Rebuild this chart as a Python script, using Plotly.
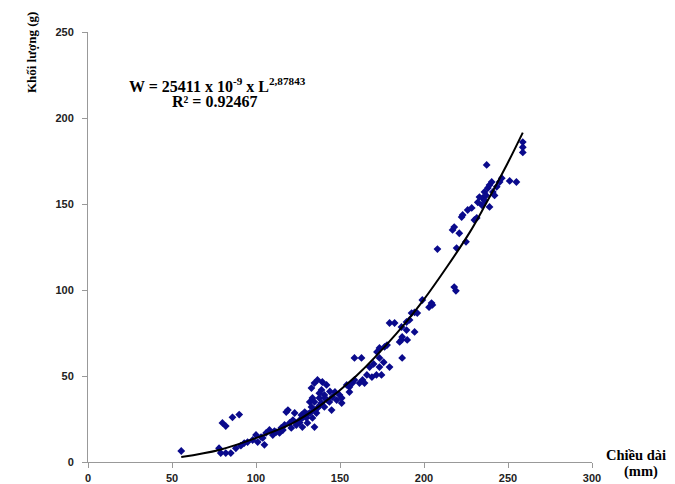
import plotly.graph_objects as go

# Observed data: length (mm) and weight (g)
length_mm = [55.5, 78, 79, 82, 85, 80, 82, 86, 90, 88, 91, 93, 95, 98, 100, 101, 103, 104, 105,
             106, 108, 110, 111, 112, 114, 115, 116, 117, 118, 119, 120, 121, 122, 123, 124, 126,
             127, 127.6, 129, 130, 130.6, 131, 132, 132, 133, 133, 133.6, 133.6, 134.8, 134.8,
             134.8, 136, 136.6, 136.6, 137.7, 137.7, 138, 139, 139, 139.5, 140.7, 140.7, 142,
             142.5, 143.7, 145, 145.5, 147, 148, 149.7, 151, 151, 154, 155.6, 155.6, 157.4, 158.6,
             158.6, 161.6, 162.8, 163.4, 164.6, 166, 167.6, 169, 171.7, 172, 173.5, 173.5, 173.5,
             174.7, 176.5, 178, 179.5, 179.5, 182.5, 185.5, 186.6, 186.6, 187, 187, 189.6, 189.6,
             190, 191.4, 192.6, 194.4, 194.4, 196, 199, 203, 204.5, 205, 208, 217, 218, 219, 218,
             219.4, 221, 222.4, 223, 225, 226, 228.4, 230, 231.4, 232, 233, 234.4, 235, 236, 236,
             237, 237.3, 238, 239, 239, 240.3, 241, 242, 243.3, 245, 246.3, 251, 255, 258.8,
             258.8, 258.8, 126, 128, 135, 141, 144, 170, 176]
weight_g = [6.4, 8, 5.2, 5.2, 5.2, 22.7, 20.9, 26, 27.6, 8, 9.5, 11, 11.6, 12.8, 15.7, 11.6, 14.5,
            14, 10, 16.9, 18.6, 15.7, 18, 17.4, 16.9, 19.8, 18.6, 21.5, 29, 30.2, 22.7, 19.8, 24.4,
            28.5, 21.5, 24.4, 27.3, 20.3, 29, 25.6, 22.7, 28, 28.5, 34.9, 32, 43, 25.6, 37.2, 20.3,
            34.9, 45.9, 28.5, 31.4, 47.7, 37.2, 40, 33, 34.3, 41.9, 46.5, 32, 39, 44.8, 36, 34.9,
            30.2, 37.8, 40.7, 36, 39, 34.3, 37.2, 44.8, 40.7, 43.6, 45.9, 47.7, 60.5, 45.9, 60.5,
            47.7, 45.9, 50.6, 55.2, 49.4, 50.6, 64, 55.2, 60.5, 66.3, 50.6, 66.9, 68, 55.2, 80.8,
            80.8, 69.8, 71, 78.5, 60.5, 72.7, 76.7, 81.4, 71, 82.6, 86.6, 75.6, 87, 86.6, 94.2, 90,
            92.4, 91.3, 123.8, 134.9, 101.7, 99.5, 136.6, 124.4, 133, 142.4, 143.6, 128, 146.5,
            147.7, 140.7, 141.9, 151, 154, 149.4, 153.5, 157, 152, 155, 172.7, 159.3, 161, 148.3,
            162.8, 157, 155, 160, 162.8, 165, 163.4, 162.8, 186, 183, 180, 23, 26, 30, 37, 41, 57, 58]

# Trend curve
trend_x = [55.5, 78.1, 100.2, 121.6, 137.7, 159.8, 183.7, 199.2, 213.5, 227.2, 236.1, 249.3, 258.8]
trend_y = [2.9, 7.0, 14.0, 22.5, 32.5, 50.2, 74.8, 93.5, 113.2, 133.5, 148.8, 172.8, 191.5]

x_ticks = [0, 50, 100, 150, 200, 250, 300]
y_ticks = [0, 50, 100, 150, 200, 250]

fig = go.Figure()
fig.add_trace(go.Scatter(x=length_mm, y=weight_g, mode="markers",
                         marker=dict(symbol="diamond", size=6, color="#0a0a8c"),
                         showlegend=False))
fig.add_trace(go.Scatter(x=trend_x, y=trend_y, mode="lines", line_shape="spline",
                         line=dict(color="black", width=2), showlegend=False))

tickfont = dict(family="Liberation Sans, Arial", size=11, color="#222", weight="bold")
fig.update_xaxes(range=[0, 300], tickvals=x_ticks, showgrid=False, zeroline=False,
                 showline=True, linecolor="#999", linewidth=1, ticks="outside", ticklen=5,
                 tickcolor="#999", tickfont=tickfont, ticklabelstandoff=1, automargin=False)
fig.update_yaxes(range=[0, 250], tickvals=y_ticks, showgrid=False, zeroline=False,
                 showline=True, linecolor="#999", linewidth=1, ticks="outside", ticklen=5,
                 tickcolor="#999", tickfont=tickfont, ticklabelstandoff=6, automargin=False)

serif = "Liberation Serif, Times New Roman"
eqfont = dict(family=serif, size=16, color="black", weight="bold")
fig.add_annotation(x=77, y=219.2, xref="x", yref="y",
                   text="W = 25411 x 10<sup>-9</sup> x L<sup>2,87843</sup>",
                   showarrow=False, font=eqfont)
fig.add_annotation(x=75, y=209.6, xref="x", yref="y", text="R² = 0.92467",
                   showarrow=False, font=eqfont)
fig.add_annotation(x=-0.113, y=0.951, xref="paper", yref="paper", text="Khối lượng (g)",
                   textangle=-90, showarrow=False, xanchor="center", yanchor="middle",
                   font=dict(family=serif, size=13, color="black", weight="bold"))
xtfont = dict(family=serif, size=14.5, color="black", weight="bold")
fig.add_annotation(x=1.087, y=0.016, xref="paper", yref="paper", text="Chiều dài",
                   showarrow=False, xanchor="center", yanchor="middle", font=xtfont)
fig.add_annotation(x=1.097, y=-0.023, xref="paper", yref="paper", text="(mm)",
                   showarrow=False, xanchor="center", yanchor="middle", font=xtfont)

fig.update_layout(width=675, height=484, plot_bgcolor="white", paper_bgcolor="white",
                  margin=dict(l=88, r=83, t=32, b=22))
# Remove the page's default 8px body margin so the figure fills the window exactly.
fig.write_html("out.html", config={"displayModeBar": False},
               post_script="document.body.style.margin='0';document.body.style.overflow='hidden';")
